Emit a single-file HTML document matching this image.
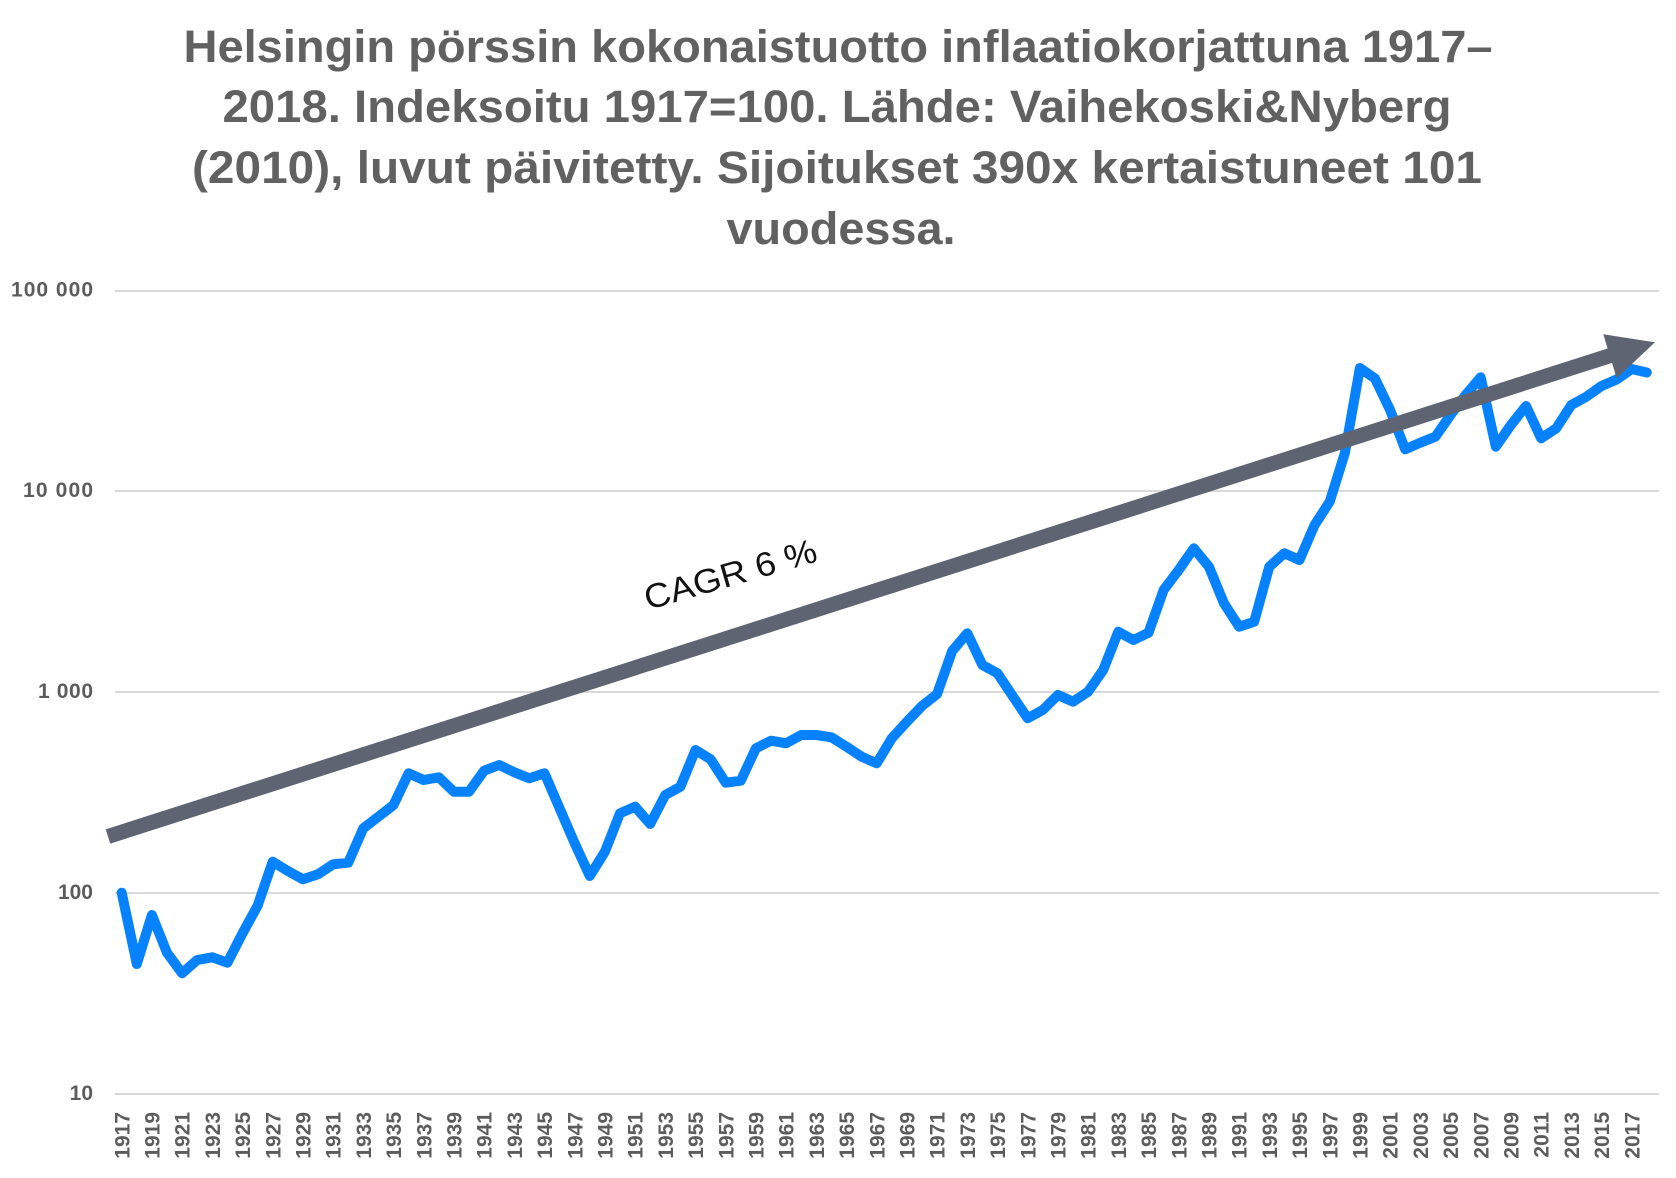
<!DOCTYPE html>
<html><head><meta charset="utf-8"><style>
html,body{margin:0;padding:0;background:#fff;}
svg{display:block;}
</style></head><body>
<svg width="1676" height="1178" viewBox="0 0 1676 1178" xmlns="http://www.w3.org/2000/svg">
<rect width="1676" height="1178" fill="#fff"/>
<g font-family="Liberation Sans, Arial, sans-serif" font-weight="bold" fill="#616161" font-size="45" text-anchor="middle">
<text x="838" y="62" textLength="1309" lengthAdjust="spacingAndGlyphs">Helsingin pörssin kokonaistuotto inflaatiokorjattuna 1917–</text>
<text x="837" y="122" textLength="1229" lengthAdjust="spacingAndGlyphs">2018. Indeksoitu 1917=100. Lähde: Vaihekoski&amp;Nyberg</text>
<text x="837" y="183" textLength="1290" lengthAdjust="spacingAndGlyphs">(2010), luvut päivitetty. Sijoitukset 390x kertaistuneet 101</text>
<text x="841" y="244" textLength="229" lengthAdjust="spacingAndGlyphs">vuodessa.</text>
</g>
<g stroke="#d9d9d9" stroke-width="2">
<line x1="115" y1="291" x2="1659" y2="291"/>
<line x1="115" y1="491" x2="1659" y2="491"/>
<line x1="115" y1="692" x2="1659" y2="692"/>
<line x1="115" y1="893" x2="1659" y2="893"/>
<line x1="115" y1="1094" x2="1659" y2="1094"/>
</g>
<g font-family="Liberation Sans, Arial, sans-serif" font-weight="bold" fill="#5c5c5c" font-size="21" text-anchor="end">
<text x="93" y="296.5" textLength="82" lengthAdjust="spacing">100 000</text>
<text x="93" y="497" textLength="70" lengthAdjust="spacing">10 000</text>
<text x="93" y="698" textLength="55" lengthAdjust="spacing">1 000</text>
<text x="93" y="899">100</text>
<text x="93" y="1100">10</text>
</g>
<g font-family="Liberation Sans, Arial, sans-serif" font-weight="bold" fill="#5c5c5c" font-size="21" text-anchor="end">
<text transform="translate(129.3,1112) rotate(-90)">1917</text>
<text transform="translate(159.5,1112) rotate(-90)">1919</text>
<text transform="translate(189.7,1112) rotate(-90)">1921</text>
<text transform="translate(219.9,1112) rotate(-90)">1923</text>
<text transform="translate(250.1,1112) rotate(-90)">1925</text>
<text transform="translate(280.3,1112) rotate(-90)">1927</text>
<text transform="translate(310.5,1112) rotate(-90)">1929</text>
<text transform="translate(340.7,1112) rotate(-90)">1931</text>
<text transform="translate(370.9,1112) rotate(-90)">1933</text>
<text transform="translate(401.1,1112) rotate(-90)">1935</text>
<text transform="translate(431.3,1112) rotate(-90)">1937</text>
<text transform="translate(461.5,1112) rotate(-90)">1939</text>
<text transform="translate(491.7,1112) rotate(-90)">1941</text>
<text transform="translate(521.9,1112) rotate(-90)">1943</text>
<text transform="translate(552.1,1112) rotate(-90)">1945</text>
<text transform="translate(582.3,1112) rotate(-90)">1947</text>
<text transform="translate(612.5,1112) rotate(-90)">1949</text>
<text transform="translate(642.7,1112) rotate(-90)">1951</text>
<text transform="translate(672.9,1112) rotate(-90)">1953</text>
<text transform="translate(703.1,1112) rotate(-90)">1955</text>
<text transform="translate(733.3,1112) rotate(-90)">1957</text>
<text transform="translate(763.5,1112) rotate(-90)">1959</text>
<text transform="translate(793.7,1112) rotate(-90)">1961</text>
<text transform="translate(823.9,1112) rotate(-90)">1963</text>
<text transform="translate(854.1,1112) rotate(-90)">1965</text>
<text transform="translate(884.3,1112) rotate(-90)">1967</text>
<text transform="translate(914.5,1112) rotate(-90)">1969</text>
<text transform="translate(944.7,1112) rotate(-90)">1971</text>
<text transform="translate(974.9,1112) rotate(-90)">1973</text>
<text transform="translate(1005.1,1112) rotate(-90)">1975</text>
<text transform="translate(1035.3,1112) rotate(-90)">1977</text>
<text transform="translate(1065.5,1112) rotate(-90)">1979</text>
<text transform="translate(1095.7,1112) rotate(-90)">1981</text>
<text transform="translate(1125.9,1112) rotate(-90)">1983</text>
<text transform="translate(1156.1,1112) rotate(-90)">1985</text>
<text transform="translate(1186.3,1112) rotate(-90)">1987</text>
<text transform="translate(1216.5,1112) rotate(-90)">1989</text>
<text transform="translate(1246.7,1112) rotate(-90)">1991</text>
<text transform="translate(1276.9,1112) rotate(-90)">1993</text>
<text transform="translate(1307.1,1112) rotate(-90)">1995</text>
<text transform="translate(1337.3,1112) rotate(-90)">1997</text>
<text transform="translate(1367.5,1112) rotate(-90)">1999</text>
<text transform="translate(1397.7,1112) rotate(-90)">2001</text>
<text transform="translate(1427.9,1112) rotate(-90)">2003</text>
<text transform="translate(1458.1,1112) rotate(-90)">2005</text>
<text transform="translate(1488.3,1112) rotate(-90)">2007</text>
<text transform="translate(1518.5,1112) rotate(-90)">2009</text>
<text transform="translate(1548.7,1112) rotate(-90)">2011</text>
<text transform="translate(1578.9,1112) rotate(-90)">2013</text>
<text transform="translate(1609.1,1112) rotate(-90)">2015</text>
<text transform="translate(1639.3,1112) rotate(-90)">2017</text>
</g>
<polyline fill="none" stroke="#0782ff" stroke-width="10" stroke-linejoin="round" stroke-linecap="round" points="121.7,892.7 136.8,964 151.9,915 167.0,952.7 182.1,973.3 197.2,960 212.3,957.3 227.4,962.7 242.5,933.3 257.6,905.7 272.7,861.7 287.8,871 302.9,879.3 318.0,874.3 333.1,864.3 348.2,862.7 363.3,828.3 378.4,816.7 393.5,805 408.6,773.3 423.7,780 438.8,777.3 453.9,791.7 469.0,791.7 484.1,770.7 499.2,765 514.3,772.3 529.4,778.3 544.5,773.3 559.6,808.3 574.7,843.3 589.8,876 604.9,851.7 620.0,813.3 635.1,806.7 650.2,824 665.3,795 680.4,786.7 695.5,750 710.6,759.3 725.7,782.7 740.8,780.7 755.9,748.3 771.0,740.7 786.1,743.3 801.2,735 816.3,735 831.4,737.3 846.5,746.7 861.6,756.7 876.7,763.3 891.8,738.3 906.9,721.7 922.0,706 937.1,694 952.2,651 967.3,633.3 982.4,665 997.5,673.3 1012.6,696 1027.7,718.3 1042.8,710 1057.9,695 1073.0,701.7 1088.1,691.7 1103.2,670 1118.3,631.7 1133.4,640 1148.5,632.7 1163.6,590 1178.7,570 1193.8,548.3 1208.9,566.7 1224.0,603.3 1239.1,626.7 1254.2,621.7 1269.3,566.7 1284.4,553.3 1299.5,560 1314.6,525 1329.7,501.7 1344.8,453.3 1359.9,368 1375.0,378.5 1390.1,410 1405.2,449.3 1420.3,442.7 1435.4,436.7 1450.5,415 1465.6,395 1480.7,377.3 1495.8,446.7 1510.9,425 1526.0,406 1541.1,438.3 1556.2,428.3 1571.3,405 1586.4,396.7 1601.5,386 1616.6,379.5 1631.7,369 1646.8,372.5"/>
<line x1="108" y1="836.5" x2="1611" y2="355.3" stroke="#5e6472" stroke-width="15" stroke-linecap="butt"/>
<polygon points="1603.3,334.3 1655,342.3 1616.7,378.3" fill="#5e6472"/>
<text x="648" y="610" transform="rotate(-16 648 610)" font-family="Liberation Sans, Arial, sans-serif" font-size="34" fill="#111" textLength="178" lengthAdjust="spacingAndGlyphs">CAGR 6 %</text>
</svg>
</body></html>
